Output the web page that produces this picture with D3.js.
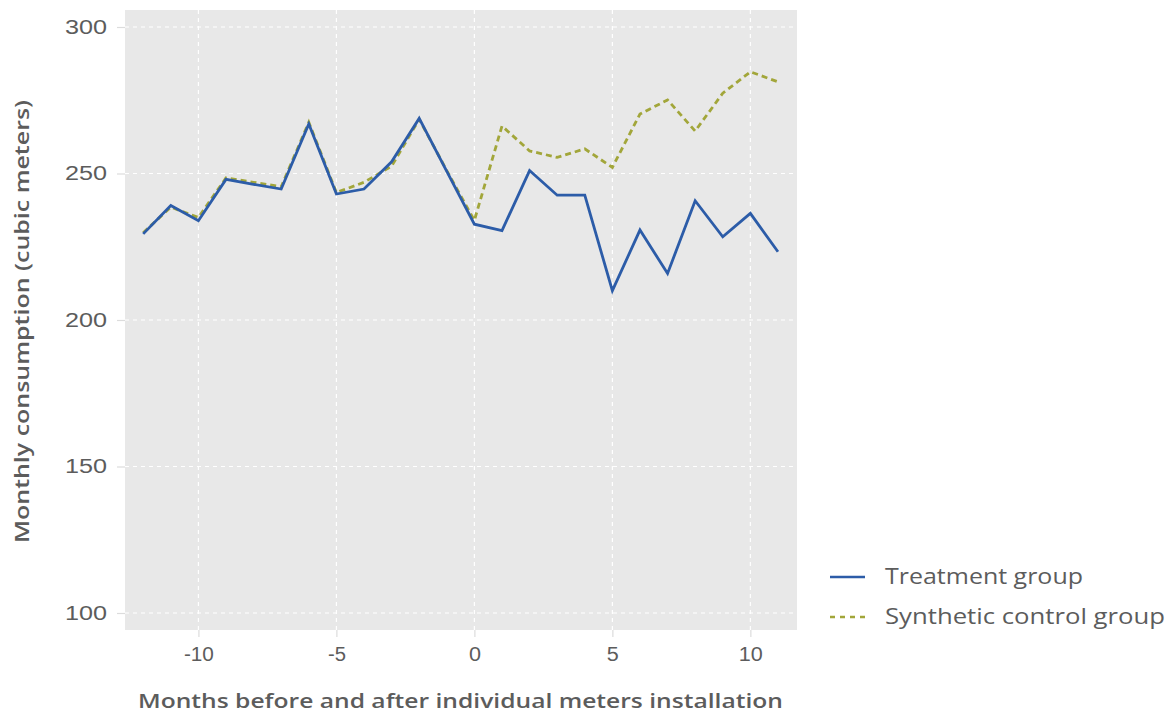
<!DOCTYPE html>
<html>
<head>
<meta charset="utf-8">
<script src="https://cdn.jsdelivr.net/npm/d3@7"></script>
<style>
  body { margin: 0; background: #fff; }
  svg { font-family: "Open Sans", sans-serif; }
</style>
</head>
<body>
<svg id="chart" width="1169" height="713"></svg>
<script>
// months relative to installation
const months = [-12,-11,-10,-9,-8,-7,-6,-5,-4,-3,-2,-1,0,1,2,3,4,5,6,7,8,9,10,11];
const treatment = [229.4,239.1,233.9,248.0,246.3,244.7,266.9,243.0,244.7,254.0,268.8,250.7,232.7,
                   230.5,251.0,242.6,242.6,210.0,230.7,215.9,240.7,228.4,236.4,223.3];
const synthetic = [229.8,238.5,235.0,248.5,247.0,245.5,267.5,243.5,247.0,252.5,268.5,251.0,234.0,
                   266.2,257.7,255.5,258.4,252.1,270.3,275.1,264.5,277.4,284.7,281.3];
const xTicks = [-10,-5,0,5,10];
const yTicks = [100,150,200,250,300];
const seriesNames = ['Treatment group','Synthetic control group'];

const svg = d3.select('#chart');
const margin = {t:10, r:372, b:83, l:125};
const width = 1169, height = 713;
const w = width - margin.l - margin.r;
const h = height - margin.t - margin.b;

const textCol = '#5c5c5c';

const scaleX = d3.scaleLinear().domain([-12.66, 11.69]).range([0, w]);
const scaleY = d3.scaleLinear().domain([94.2, 305.8]).range([h, 0]);

const plot = svg.append('g').attr('transform', `translate(${margin.l},${margin.t})`);

// panel background
plot.append('rect')
    .attr('width', w).attr('height', h)
    .attr('fill', '#e8e8e8');

// grid
plot.selectAll('.gy').data(yTicks).enter().append('line')
    .attr('x1', 0).attr('x2', w)
    .attr('y1', d => scaleY(d)).attr('y2', d => scaleY(d))
    .attr('stroke', '#fff').attr('stroke-width', 1.2)
    .attr('stroke-dasharray', '4,4');
plot.selectAll('.gx').data(xTicks).enter().append('line')
    .attr('y1', 0).attr('y2', h)
    .attr('x1', d => scaleX(d)).attr('x2', d => scaleX(d))
    .attr('stroke', '#fff').attr('stroke-width', 1.2)
    .attr('stroke-dasharray', '4,4');

// axes
const xAxis = plot.append('g')
    .attr('transform', `translate(0,${h})`)
    .call(d3.axisBottom(scaleX).tickValues(xTicks).tickSize(7).tickPadding(10)
        .tickFormat(d => d < 0 ? '-' + Math.abs(d) : d));
const yAxis = plot.append('g')
    .call(d3.axisLeft(scaleY).tickValues(yTicks).tickSize(8).tickPadding(10));

[xAxis, yAxis].forEach(a => {
    a.select('.domain').remove();
    a.selectAll('.tick line').attr('stroke', '#dcdcdc').attr('stroke-width', 1.2);
    a.selectAll('.tick text')
        .attr('fill', textCol)
        .attr('lengthAdjust', 'spacingAndGlyphs')
        .style('font-size', '20px')
        .style('font-weight', 300);
});
xAxis.selectAll('.tick text').attr('textLength', d => String(Math.abs(d)).length * 12 + (d < 0 ? 6 : 0));
yAxis.selectAll('.tick text').attr('textLength', 42);

// lines
const line = d3.line()
    .x((d, i) => scaleX(months[i]))
    .y(d => scaleY(d));

plot.append('path')
    .datum(synthetic)
    .attr('d', line)
    .attr('fill', 'none')
    .attr('stroke', '#a2a63a')
    .attr('stroke-width', 2.8)
    .attr('stroke-dasharray', '6,4');

plot.append('path')
    .datum(treatment)
    .attr('d', line)
    .attr('fill', 'none')
    .attr('stroke', '#2c5ca8')
    .attr('stroke-width', 2.8);

// axis titles
svg.append('text')
    .attr('x', 138)
    .attr('y', 708)
    .attr('textLength', 645)
    .attr('lengthAdjust', 'spacingAndGlyphs')
    .attr('fill', textCol)
    .style('font-size', '20px')
    .style('font-weight', 600)
    .text('Months before and after individual meters installation');

svg.append('text')
    .attr('transform', 'translate(29,543) rotate(-90)')
    .attr('textLength', 443)
    .attr('lengthAdjust', 'spacingAndGlyphs')
    .attr('fill', textCol)
    .style('font-size', '20px')
    .style('font-weight', 600)
    .text('Monthly consumption (cubic meters)');

// legend
const legendLen = [198, 280];
const legend = svg.append('g').attr('transform', 'translate(830,577)');
const legendItems = legend.selectAll('g').data(seriesNames).enter().append('g')
    .attr('transform', (d, i) => `translate(0,${i * 40})`);
legendItems.append('line')
    .attr('x1', 0).attr('x2', 35)
    .attr('stroke', (d, i) => i === 0 ? '#2c5ca8' : '#a2a63a')
    .attr('stroke-width', 2.6)
    .attr('stroke-dasharray', (d, i) => i === 0 ? null : '5,5');
legendItems.append('text')
    .attr('x', 55)
    .attr('dy', '0.35em')
    .attr('textLength', (d, i) => legendLen[i])
    .attr('lengthAdjust', 'spacingAndGlyphs')
    .attr('fill', textCol)
    .style('font-size', '21px')
    .text(d => d);
</script>
</body>
</html>
